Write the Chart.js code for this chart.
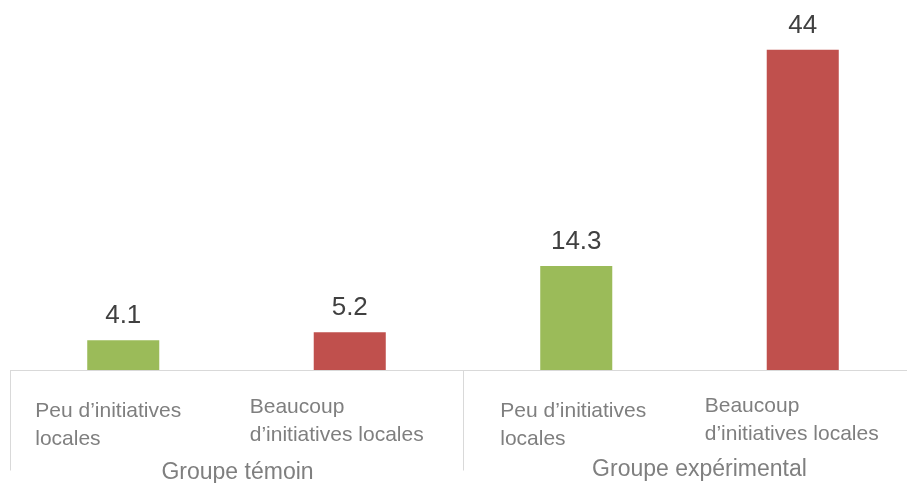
<!DOCTYPE html>
<html>
<head>
<meta charset="utf-8">
<script src="https://cdn.jsdelivr.net/npm/chart.js@4"></script>
<style>
  html, body { margin: 0; padding: 0; background: #fff; overflow: hidden; }
  #wrap { width: 907px; height: 483px; overflow: hidden; }
  #wrap canvas { display: block; }
</style>
</head>
<body>
<div id="wrap"><canvas id="chart" width="920" height="483"></canvas></div>
<script>
const categories = [
  ['Peu d\u2019initiatives', 'locales'],
  ['Beaucoup', 'd\u2019initiatives locales'],
  ['Peu d\u2019initiatives', 'locales'],
  ['Beaucoup', 'd\u2019initiatives locales']
];
const groups = ['Groupe témoin', 'Groupe expérimental'];
const values = [4.1, 5.2, 14.3, 44];
const valueLabels = ['4.1', '5.2', '14.3', '44'];
const barColors = ['#9bbb59', '#c0504d', '#9bbb59', '#c0504d'];

const FONT = '"Liberation Sans", Arial, sans-serif';

const labelsPlugin = {
  id: 'labels',
  afterDraw(c) {
    const ctx = c.ctx;
    const x = c.scales.x;
    const y = c.scales.y;
    const area = c.chartArea;
    const base = Math.round(y.getPixelForValue(0)) + 0.5;

    ctx.save();
    // axis line and group dividers
    ctx.strokeStyle = '#d9d9d9';
    ctx.lineWidth = 1;
    ctx.beginPath();
    ctx.moveTo(area.left, base);
    ctx.lineTo(area.right, base);
    const divs = [area.left, x.getPixelForValue(1.5)];
    divs.forEach(px => {
      const p = Math.round(px) + 0.5;
      ctx.moveTo(p, base);
      ctx.lineTo(p, base + 100);
    });
    ctx.stroke();

    // value labels
    ctx.fillStyle = '#404040';
    ctx.font = '26px ' + FONT;
    ctx.textAlign = 'center';
    ctx.textBaseline = 'alphabetic';
    const meta = c.getDatasetMeta(0);
    meta.data.forEach((bar, i) => {
      ctx.fillText(valueLabels[i], bar.x, bar.y - 17);
    });

    // category labels
    ctx.fillStyle = '#7f7f7f';
    ctx.font = '21px ' + FONT;
    ctx.textAlign = 'left';
    const shift = [-88, -100, -76, -98];
    const top = [417, 413, 417, 412];
    categories.forEach((lines, i) => {
      const cx = x.getPixelForValue(i) + shift[i];
      lines.forEach((t, j) => ctx.fillText(t, cx, top[i] + j * 28));
    });

    // group labels
    ctx.font = '23px ' + FONT;
    ctx.textAlign = 'center';
    const gx = [x.getPixelForValue(0.5) + 1, x.getPixelForValue(2.5) + 10];
    const gy = [479, 476];
    groups.forEach((g, i) => ctx.fillText(g, gx[i], gy[i]));
    ctx.restore();
  }
};

new Chart(document.getElementById('chart'), {
  type: 'bar',
  data: {
    labels: categories.map(l => l.join(' ')),
    datasets: [{
      data: values,
      backgroundColor: barColors,
      borderWidth: 0,
      categoryPercentage: 0.318,
      barPercentage: 1
    }]
  },
  options: {
    responsive: false,
    animation: false,
    layout: { padding: { left: 10, right: 4, top: 6, bottom: 113 } },
    plugins: { legend: { display: false }, tooltip: { enabled: false } },
    scales: {
      x: { display: false },
      y: { display: false, min: 0, max: 50 }
    }
  },
  plugins: [labelsPlugin]
});
</script>
</body>
</html>
